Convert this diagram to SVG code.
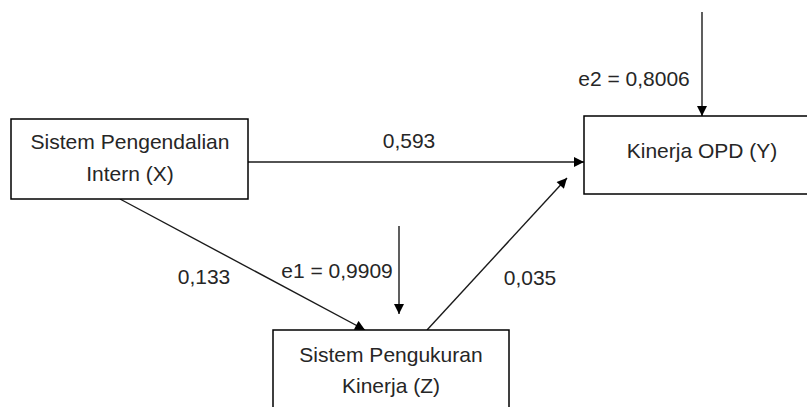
<svg xmlns="http://www.w3.org/2000/svg" width="807" height="407" viewBox="0 0 807 407">
  <style>
    .box { fill: #ffffff; stroke: #000000; stroke-width: 1.5; }
    .conn { stroke: #1a1a1a; stroke-width: 1.4; fill: none; marker-end: url(#arrow); }
    .lbl { font-family: "Liberation Sans", Arial, sans-serif; font-size: 21px; fill: #262626; text-anchor: middle; }
  </style>
  <defs>
    <marker id="arrow" viewBox="0 0 10 10" refX="10" refY="5" markerWidth="11" markerHeight="10" markerUnits="userSpaceOnUse" orient="auto">
      <path d="M0,0 L10,5 L0,10 Z" fill="#000000"/>
    </marker>
  </defs>
  <rect width="807" height="407" fill="#ffffff"/>

  <g id="connectors">
    <line class="conn" x1="248" y1="162" x2="584" y2="162"/>
    <line class="conn" x1="120" y1="199" x2="365" y2="330"/>
    <line class="conn" x1="427" y1="330" x2="567" y2="178"/>
    <line class="conn" x1="399" y1="226" x2="399" y2="314"/>
    <line class="conn" x1="702" y1="12" x2="702" y2="116"/>
  </g>

  <g id="node-x">
    <rect class="box" x="11" y="119" width="237" height="80"/>
    <text class="lbl" x="130" y="149" textLength="199" lengthAdjust="spacingAndGlyphs">Sistem Pengendalian</text>
    <text class="lbl" x="130" y="181">Intern (X)</text>
  </g>

  <g id="node-y">
    <rect class="box" x="584" y="116" width="240" height="78"/>
    <text class="lbl" x="702" y="158">Kinerja OPD (Y)</text>
  </g>

  <g id="node-z">
    <rect class="box" x="273" y="330" width="236" height="100"/>
    <text class="lbl" x="391" y="362">Sistem Pengukuran</text>
    <text class="lbl" x="391" y="393">Kinerja (Z)</text>
  </g>

  <g id="labels">
    <text class="lbl" x="409" y="148">0,593</text>
    <text class="lbl" x="634" y="86">e2 = 0,8006</text>
    <text class="lbl" x="337" y="278">e1 = 0,9909</text>
    <text class="lbl" x="204" y="284">0,133</text>
    <text class="lbl" x="530" y="285">0,035</text>
  </g>
</svg>
